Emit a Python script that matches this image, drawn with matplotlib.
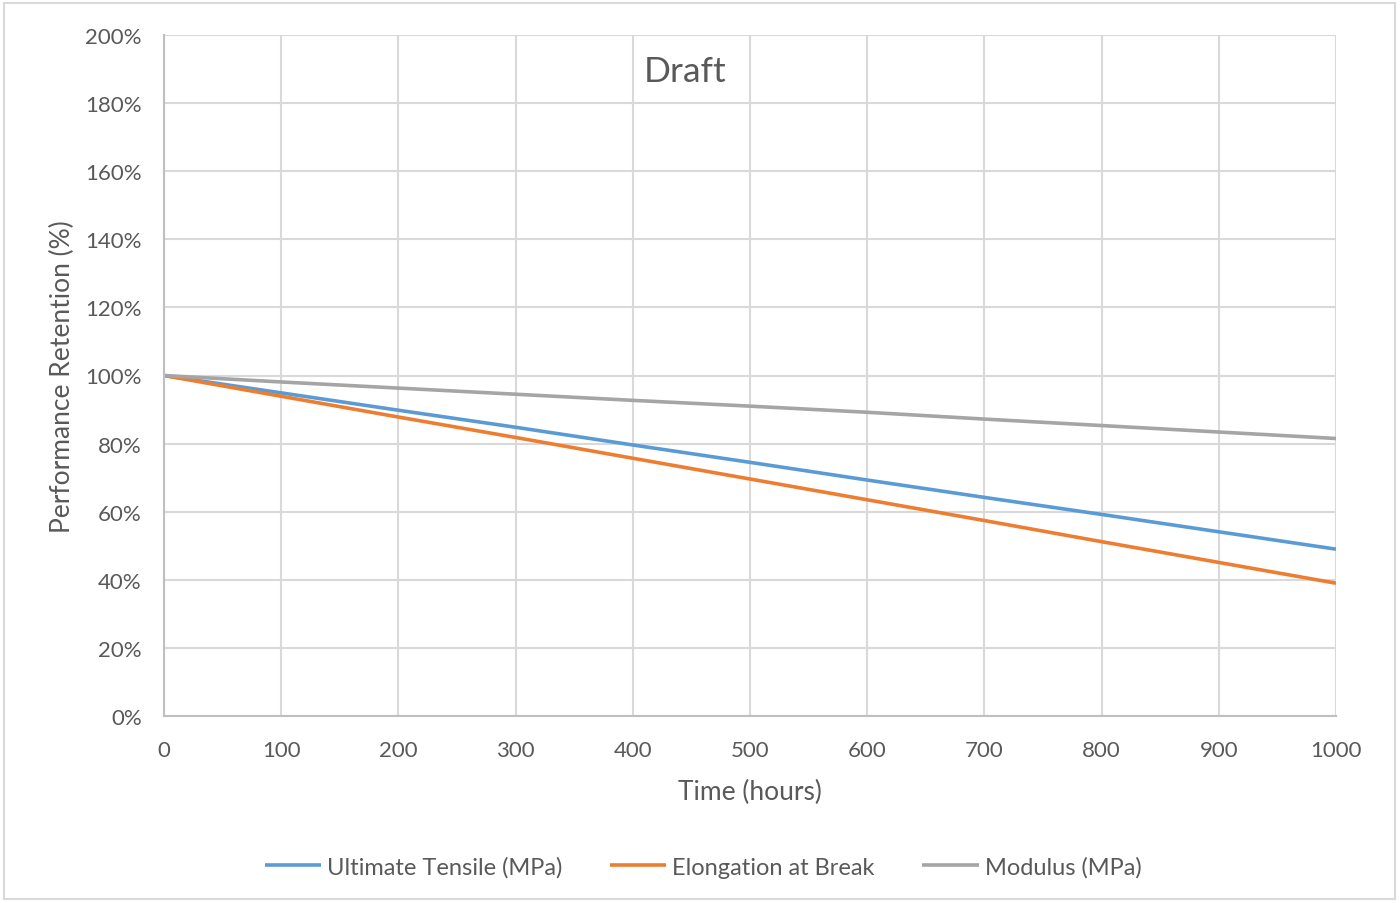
import matplotlib.pyplot as plt
from matplotlib.patches import Rectangle
from matplotlib.ticker import PercentFormatter

# Data (percent retention vs. hours)
hours = [0, 100, 200, 300, 400, 500, 600, 700, 800, 900, 1000]
tensile = [100, 94.9, 89.8, 84.8, 79.6, 74.5, 69.3, 64.2, 59.2, 54.1, 49.0]
elongation = [100, 93.9, 87.8, 81.8, 75.7, 69.6, 63.5, 57.4, 51.2, 45.1, 39.0]
modulus = [100, 98.1, 96.3, 94.5, 92.7, 91.0, 89.2, 87.2, 85.3, 83.4, 81.5]
series_names = ['Ultimate Tensile (MPa)', 'Elongation at Break', 'Modulus (MPa)']
series_colors = ['#5B9BD5', '#ED7D31', '#A5A5A5']

TEXT = '#595959'
plt.rcParams['font.family'] = ['Lato', 'DejaVu Sans']

fig = plt.figure(figsize=(14, 9.04), dpi=100)
ax = fig.add_axes([164 / 1400, 1 - 717 / 904, (1336 - 164) / 1400, (717 - 36) / 904])

for ys, name, color in zip([tensile, elongation, modulus], series_names, series_colors):
    ax.plot(hours, ys, color=color, lw=2.6, label=name, solid_capstyle='butt')

ax.set_xlim(0, 1000)
ax.set_ylim(0, 200)
ax.set_xticks(range(0, 1001, 100))
ax.set_yticks(range(0, 201, 20))
ax.yaxis.set_major_formatter(PercentFormatter(decimals=0))
ax.grid(True, color='#d9d9d9', lw=1.5)
ax.set_axisbelow(True)
ax.tick_params(length=0, labelsize=16, labelcolor=TEXT)
ax.tick_params(axis='x', pad=17)
ax.tick_params(axis='y', pad=16)

for side in ['top', 'right']:
    ax.spines[side].set_visible(False)
for side in ['left', 'bottom']:
    ax.spines[side].set_color('#bfbfbf')
    ax.spines[side].set_linewidth(1.5)

ax.set_xlabel('Time (hours)', fontsize=19, color=TEXT, labelpad=14)
ax.set_ylabel('Performance Retention (%)', fontsize=19, color=TEXT, labelpad=7)

fig.text(685 / 1400, 1 - 72 / 904, 'Draft', fontsize=25.5, color=TEXT, ha='center', va='center')

fig.legend(loc='center', bbox_to_anchor=(703 / 1400, 1 - 868 / 904), ncol=3, frameon=False,
           fontsize=17, labelcolor=TEXT, handlelength=2.4, handletextpad=0.25, columnspacing=2.0)

# Chart-area border
fig.add_artist(Rectangle((4 / 1400, 4 / 904), 1391 / 1400, 896 / 904, transform=fig.transFigure,
                         fill=False, edgecolor='#d9d9d9', lw=1.5))

fig.savefig('out.png', dpi=100, facecolor='white')
